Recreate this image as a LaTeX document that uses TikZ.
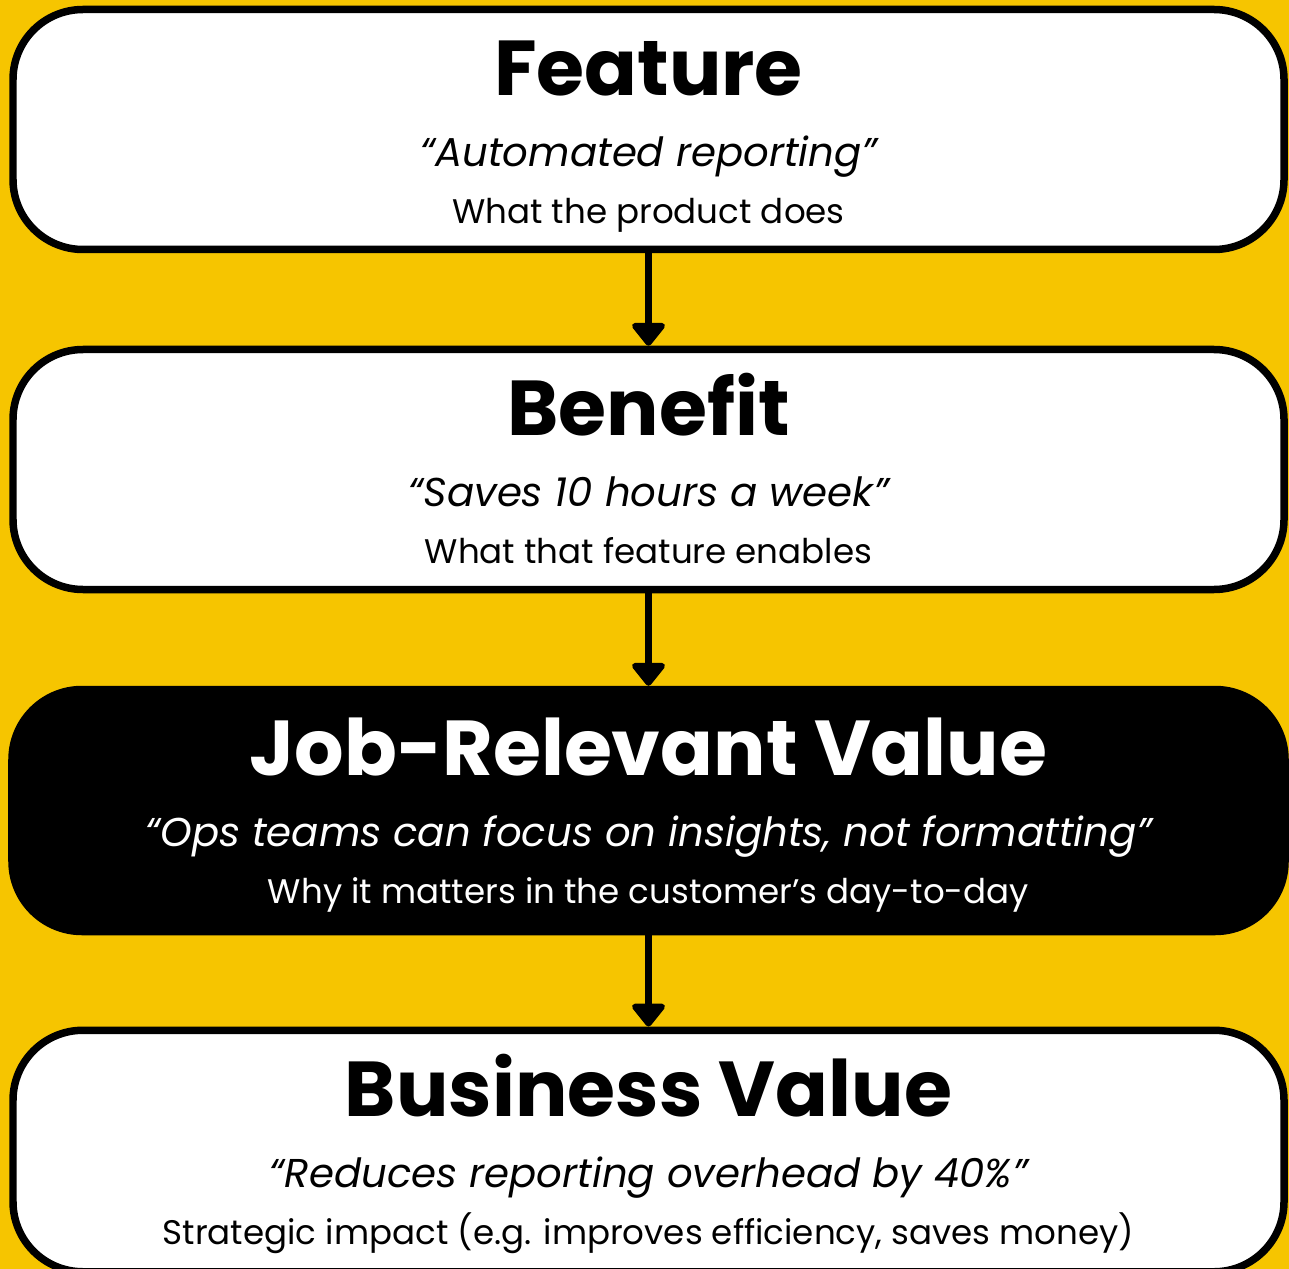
\documentclass[tikz,border=0pt]{standalone}
\usepackage{fontspec}
\setmainfont{Poppins}
\usetikzlibrary{arrows.meta}
\definecolor{mustard}{HTML}{F6C500}

\begin{document}
\begin{tikzpicture}[>={Triangle[width=0.76cm,length=0.5cm,round]},line width=0.15cm,
  stage/.style={draw=black,fill=white,rounded corners=1.4cm,minimum width=25.42cm,minimum height=4.8cm,inner sep=0pt},
  title/.style={anchor=base,font=\bfseries\fontsize{44.3}{50}\selectfont},
  quote/.style={anchor=base,font=\itshape\fontsize{22.9}{27}\selectfont},
  sub/.style={anchor=base,font=\fontsize{19.4}{24}\selectfont}]

% background
\fill[mustard] (0,0) rectangle (25.78,-25.38);
\useasboundingbox (0,0) rectangle (25.78,-25.38);

\node (feature) [stage] at (12.97,-2.59) {};
\node (benefit) [stage] at (12.97,-9.39) {};
\node (job) [stage,fill=black,minimum height=4.84cm,minimum width=25.46cm] at (12.97,-16.21) {};
\node (business) [stage,minimum height=4.83cm] at (12.97,-23.02) {};

\path [->]
    (feature.south) edge (benefit.north)
    (benefit.south) edge (job.north)
    (job.south) edge (business.north)
;

\node (feature-t) [title] at ([yshift=-1.8cm]feature.north) {Feature};
\node (feature-q) [quote] at ([yshift=-3.22cm]feature.north) {“Automated reporting”};
\node (feature-s) [sub] at ([yshift=-4.36cm]feature.north) {What the product does};

\node (benefit-t) [title] at ([yshift=-1.8cm]benefit.north) {Benefit};
\node (benefit-q) [quote] at ([yshift=-3.22cm]benefit.north) {“Saves 10 hours a week”};
\node (benefit-s) [sub] at ([yshift=-4.36cm]benefit.north) {What that feature enables};

\node (job-t) [title,text=white] at ([yshift=-1.8cm]job.north) {Job-Relevant Value};
\node (job-q) [quote,text=white] at ([yshift=-3.22cm]job.north) {“Ops teams can focus on insights, not formatting”};
\node (job-s) [sub,text=white] at ([yshift=-4.36cm]job.north) {Why it matters in the customer’s day-to-day};

\node (business-t) [title] at ([yshift=-1.8cm]business.north) {Business Value};
\node (business-q) [quote] at ([yshift=-3.22cm]business.north) {“Reduces reporting overhead by 40\%”};
\node (business-s) [sub] at ([yshift=-4.36cm]business.north) {Strategic impact (e.g. improves efficiency, saves money)};

\end{tikzpicture}
\end{document}
